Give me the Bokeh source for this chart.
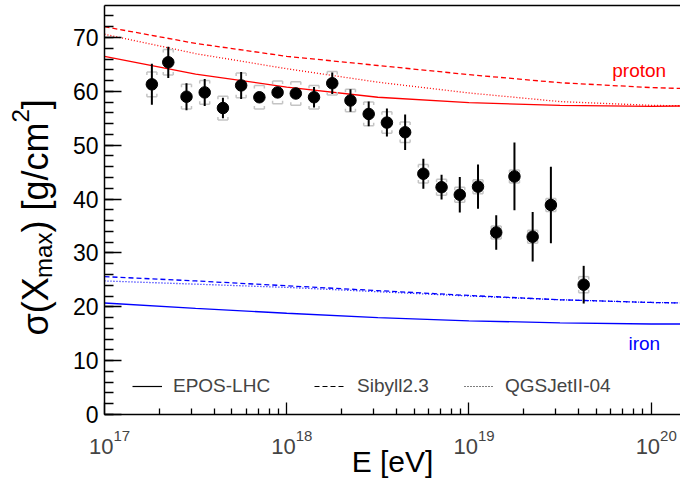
import math
from bokeh.plotting import figure
from bokeh.models import (Label, Legend, LegendItem, FixedTicker, LogAxis,
                          SingleIntervalTicker, ColumnDataSource)
from bokeh.embed import file_html
from bokeh.resources import INLINE

# ---------------- data ----------------
log_energy = [17.26, 17.35, 17.45, 17.55, 17.65, 17.75, 17.85, 17.95, 18.05, 18.15,
              18.25, 18.35, 18.45, 18.55, 18.65, 18.75, 18.85, 18.95, 19.05, 19.15,
              19.25, 19.35, 19.45, 19.63]
sigma_xmax = [61.3, 65.4, 59.0, 59.8, 56.9, 61.1, 58.9, 59.8, 59.6, 58.9,
              61.5, 58.3, 55.8, 54.2, 52.4, 44.7, 42.2, 40.8, 42.3, 33.8,
              44.2, 33.0, 38.9, 24.1]
stat_err = [3.8, 2.9, 2.5, 2.5, 1.9, 2.5, 0.8, 0.8, 0.8, 1.9,
            2.0, 2.1, 2.3, 2.6, 3.3, 2.8, 2.3, 3.3, 4.1, 3.2,
            6.3, 4.6, 7.1, 3.5]
sys_err = [2.3, 2.35, 2.3, 2.2, 2.2, 2.3, 2.2, 2.1, 2.2, 2.2,
           2.2, 2.1, 2.2, 2.0, 1.9, 1.7, 1.5, 1.4, 1.3, 1.2,
           1.2, 1.2, 1.2, 1.5]

model_log_energy = [17.0, 17.5, 18.0, 18.5, 19.0, 19.5, 20.0, 20.2]
proton_epos = [66.5, 63.2, 60.8, 58.9, 57.9, 57.4, 57.2, 57.3]
proton_sibyll = [72.0, 68.9, 66.5, 64.8, 63.1, 61.6, 60.7, 60.5]
proton_qgsjet = [70.6, 67.0, 64.2, 61.7, 59.7, 58.1, 57.4, 57.3]
iron_epos = [20.7, 19.7, 18.8, 18.0, 17.4, 17.0, 16.8, 16.8]
iron_sibyll = [25.6, 24.8, 23.9, 23.0, 22.1, 21.3, 20.8, 20.7]
iron_qgsjet = [24.8, 24.2, 23.6, 22.8, 22.0, 21.3, 20.8, 20.7]

model_names = ["EPOS-LHC", "Sibyll2.3", "QGSJetII-04"]
x_decades = [17, 18, 19, 20]
y_max = 75.94

# ---------------- layout (pixels) ----------------
FONT = "Liberation Sans"
W, H = 680, 483
LEFT_PX, AXIS_PX = 104, 414          # where the axes sit on the canvas
PX_PER_DEC, PX_PER_UNIT = 182.2, 5.386
x_lo = 17 - LEFT_PX / PX_PER_DEC
x_hi = x_lo + W / PX_PER_DEC
y_lo = -(H - AXIS_PX) / PX_PER_UNIT
y_hi = y_lo + H / PX_PER_UNIT

p = figure(width=W, height=H, x_axis_type="log",
           x_range=(10 ** x_lo, 10 ** x_hi), y_range=(y_lo, y_hi),
           output_backend="svg", toolbar_location=None,
           min_border_left=0, min_border_right=0, min_border_top=0, min_border_bottom=0)
p.outline_line_color = None
p.grid.visible = False
p.background_fill_color = "white"
p.border_fill_color = "white"

xa = p.xaxis[0]
xa.fixed_location = 0
xa.bounds = (1e17, 10 ** x_hi)
xa.ticker = FixedTicker(ticks=[10.0 ** d for d in x_decades],
                        minor_ticks=[m * 10.0 ** d for d in range(17, 21) for m in range(2, 10)])
xa.major_tick_in = 12
xa.major_tick_out = 0
xa.minor_tick_in = 6
xa.minor_tick_out = 0
xa.major_tick_line_width = 1.3
xa.minor_tick_line_width = 1.3
xa.axis_line_width = 1.5
xa.major_label_text_font_size = "1px"
xa.major_label_text_alpha = 0
xa.major_label_standoff = 0
xa.axis_label = "E [eV]"
xa.axis_label_text_font = FONT
xa.axis_label_text_font_size = "30px"
xa.axis_label_text_font_style = "normal"
xa.axis_label_text_color = "black"
xa.axis_label_standoff = 30

ya = p.yaxis[0]
ya.fixed_location = 1e17
ya.bounds = (0, y_max)
ya.ticker = SingleIntervalTicker(interval=10, num_minor_ticks=5)
ya.major_tick_in = 17
ya.major_tick_out = 0
ya.minor_tick_in = 9
ya.minor_tick_out = 0
ya.major_tick_line_width = 1.3
ya.minor_tick_line_width = 1.3
ya.axis_line_width = 1.5
ya.major_label_text_font = FONT
ya.major_label_text_font_size = "23px"
ya.major_label_text_color = "black"
ya.major_label_standoff = 6

top_ax = LogAxis(fixed_location=y_max, bounds=(1e17, 10 ** x_hi),
                 ticker=FixedTicker(ticks=[10.0 ** d for d in x_decades]),
                 axis_line_width=1.5, major_tick_in=0, major_tick_out=0,
                 minor_tick_in=0, minor_tick_out=0, major_label_standoff=0,
                 major_label_text_font_size="1px", major_label_text_alpha=0)
p.add_layout(top_ax, "above")

# ---------------- model curves ----------------
ME = [10 ** v for v in model_log_energy]
SOLID, DASH, DOT = "solid", "5 3", "1 2"
for vals, col, dash in [(proton_epos, "red", SOLID), (proton_sibyll, "red", DASH),
                        (proton_qgsjet, "red", DOT), (iron_epos, "blue", SOLID),
                        (iron_sibyll, "blue", DASH), (iron_qgsjet, "blue", DOT)]:
    p.line(ME, vals, line_color=col, line_width=1.3, line_dash=dash)

# ---------------- data points ----------------
E = [10 ** v for v in log_energy]
kx = 10 ** (5.0 / PX_PER_DEC)     # half-width of systematic brackets (5 px)
leg = 3.0 / PX_PER_UNIT           # bracket leg length (3 px)
gray = "#c4c4c4"
x0s, x1s, y0s, y1s = [], [], [], []
for e, s, d in zip(E, sigma_xmax, sys_err):
    for yy, sgn in ((s + d, -1), (s - d, 1)):
        x0s += [e / kx, e / kx, e * kx]
        x1s += [e * kx, e / kx, e * kx]
        y0s += [yy, yy, yy]
        y1s += [yy, yy + sgn * leg, yy + sgn * leg]
p.segment(x0=x0s, x1=x1s, y0=y0s, y1=y1s, line_color=gray, line_width=1.5)

p.segment(x0=E, x1=E, y0=[s - e for s, e in zip(sigma_xmax, stat_err)],
          y1=[s + e for s, e in zip(sigma_xmax, stat_err)],
          line_color="black", line_width=2)
p.scatter(E, sigma_xmax, size=11.5, fill_color="black", line_color="black")

# ---------------- legend ----------------
legend_specs = [(SOLID, 28, 11), (DASH, 210, 13), (DOT, 360, 11)]
for name, (dash, lx, stand) in zip(model_names, legend_specs):
    src = ColumnDataSource(dict(x=[float("nan")], y=[float("nan")]))
    r = p.line("x", "y", source=src, line_color="black", line_width=1.2, line_dash=dash)
    lg = Legend(items=[LegendItem(label=name, renderers=[r])],
                location=(LEFT_PX + lx, H - AXIS_PX + 17),
                orientation="horizontal", padding=0, margin=0, spacing=0,
                glyph_width=30, glyph_height=20, label_standoff=stand,
                label_text_font=FONT, label_text_font_size="19px",
                background_fill_alpha=0, border_line_color=None)
    p.add_layout(lg)

# ---------------- texts ----------------
p.add_layout(Label(x=10 ** 19.787, y=63.9, text="proton", text_color="red",
                   text_font=FONT, text_font_size="19px", text_baseline="alphabetic"))
p.add_layout(Label(x=10 ** 19.876, y=13.1, text="iron", text_color="blue",
                   text_font=FONT, text_font_size="19px", text_baseline="alphabetic"))

for d in x_decades:
    p.add_layout(Label(x=10.0 ** d, y=0, text="10", text_align="right",
                       text_baseline="alphabetic", x_offset=9, y_offset=-32,
                       text_font=FONT, text_font_size="22px"))
    p.add_layout(Label(x=10.0 ** d, y=0, text=str(d), text_align="left",
                       text_baseline="alphabetic", x_offset=9, y_offset=-21,
                       text_font=FONT, text_font_size="15px"))

# y-axis title built from pieces (rotated)
def yv(py):
    return (AXIS_PX - py) / PX_PER_UNIT

F, S = 36, 24
pieces = [("\u03c3(X", F, 0, 1.60), ("max", S, 8, 1.889), (") [g/cm", F, 0, 3.056),
          ("2", S, -15, 0.556), ("]", F, 0, 0.278)]
pos = 335.0
for txt, fs, shift, em in pieces:
    p.add_layout(Label(x=1e17, y=yv(pos), text=txt, angle=math.pi / 2,
                       text_align="left", text_baseline="alphabetic",
                       x_offset=-69 + shift, text_font=FONT,
                       text_font_size=f"{fs}px", text_color="black"))
    pos -= em * fs

open("out.html", "w").write(file_html(p, INLINE))
